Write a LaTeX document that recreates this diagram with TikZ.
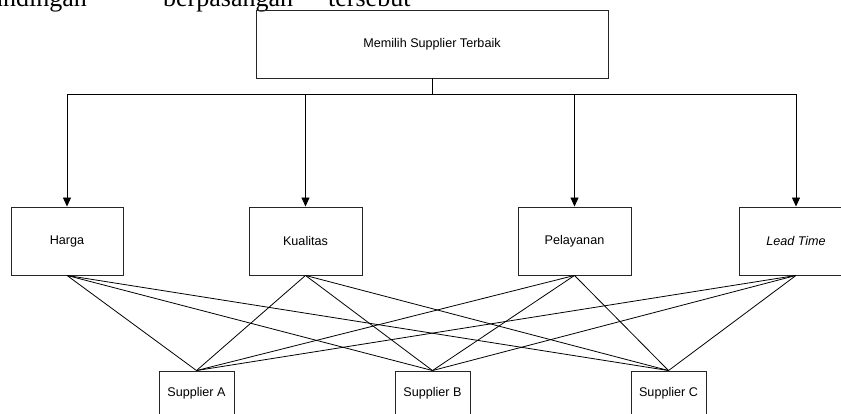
\documentclass[tikz,border=0pt]{standalone}
\usepackage{fontspec}
\setmainfont{Liberation Sans}
\newfontfamily\docserif{Liberation Serif}
\usetikzlibrary{arrows.meta}
\begin{document}
\begin{tikzpicture}[x=1pt,y=-1pt,
  box/.style={draw=black!85, line width=0.9pt, rectangle, inner sep=0pt, align=center,
              font=\fontsize{12.6}{15}\selectfont},
  link/.style={draw=black, line width=0.8pt},
  arr/.style={draw=black, line width=0.9pt, -{Triangle[length=9pt,width=8pt]}},
  doctext/.style={inner sep=0pt, font=\docserif\fontsize{26}{30}\selectfont}]
\useasboundingbox (0,0) rectangle (841,414);
\clip (0,0) rectangle (841,414);
% cut-off document line
\node[doctext, anchor=base east] (w1) at (87,6.5) {perbandingan};
\node[doctext, anchor=base west] (w2) at (163,6.5) {berpasangan};
\node[doctext, anchor=base west] (w3) at (328,6.5) {tersebut};
% goal
\node[box, minimum width=352pt, minimum height=68pt] (goal) at (432,44) {Memilih Supplier Terbaik};
% criteria
\node[box, minimum width=112pt, minimum height=68pt] (harga) at (67,241) {Harga};
\node[box, minimum width=113pt, minimum height=68pt] (kual) at (305.5,241) {Kualitas};
\node[box, minimum width=113pt, minimum height=68pt] (pel) at (574.5,241) {Pelayanan};
\node[box, minimum width=113pt, minimum height=68pt] (lead) at (796,241) {\itshape Lead Time};
% alternatives
\node[box, minimum width=75pt, minimum height=44pt] (sa) at (196.5,393) {Supplier A};
\node[box, minimum width=75pt, minimum height=44pt] (sb) at (432.5,393) {Supplier B};
\node[box, minimum width=75pt, minimum height=44pt] (sc) at (668.5,393) {Supplier C};
% bus
\coordinate (bus) at (432,94.5);
\draw[link, line width=0.9pt] (goal.south) -- (goal.south |- bus);
\draw[link, line width=0.9pt] (harga.north |- bus) -- (lead.north |- bus);
\foreach \c in {harga,kual,pel,lead}{
  \draw[arr] (\c.north |- bus) -- (\c.north);
}
% links
\foreach \c in {harga,kual,pel,lead}{
  \foreach \s in {sa,sb,sc}{
    \draw[link] (\c.south) -- (\s.north);
  }
}
\end{tikzpicture}
\end{document}
